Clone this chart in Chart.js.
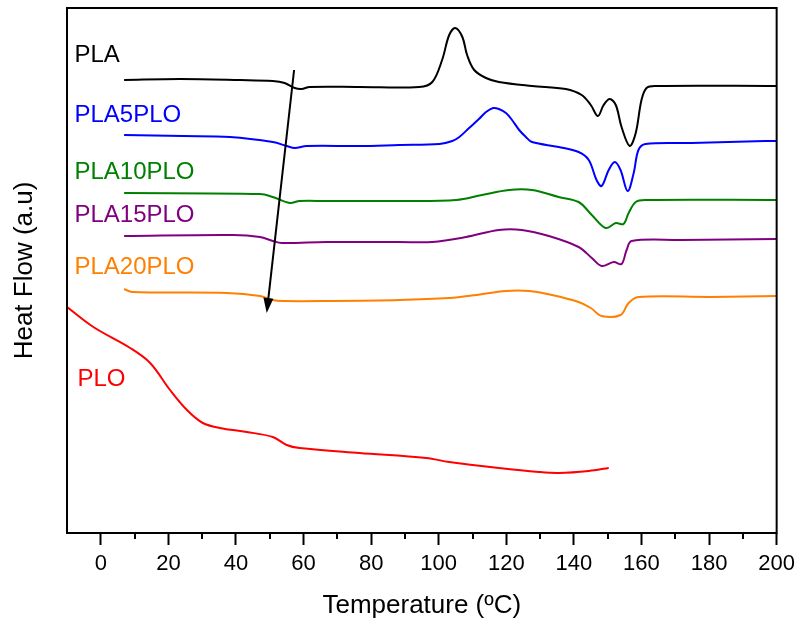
<!DOCTYPE html>
<html>
<head>
<meta charset="utf-8">
<script src="https://cdn.jsdelivr.net/npm/chart.js@4/dist/chart.umd.min.js"></script>
<style>
  html, body { margin: 0; padding: 0; background: #fff; }
  #wrap { width: 801px; height: 624px; }
</style>
</head>
<body>
<div id="wrap"><canvas id="dsc"></canvas></div>
<script>
// temperatures (°C) and heat flow (arbitrary units, offset curves)
const plaTemp = [6.9, 23.5, 41.2, 50.9, 54.4, 57.4, 59.4, 61.8, 76.5, 94.2, 98.1, 101.0, 103.1, 104.9, 107.0, 108.4, 110.5, 114.0, 117.8, 127.6, 137.6, 142.3, 145.0, 147.1, 148.8, 150.6, 152.4, 154.1, 156.5, 158.3, 160.0, 161.5, 164.1, 200];
const plaFlow = [453, 454, 453, 452, 450, 445, 444, 446, 446, 446, 451, 473, 498, 505, 496, 478, 463, 455, 451, 447, 444, 438, 428, 417, 428, 434, 428, 406, 387, 400, 433, 445, 447, 447];

const pla5Temp = [6.9, 24.3, 38.2, 50.9, 55.0, 57.4, 60.9, 76.5, 88.3, 100.2, 104.0, 106.1, 109.0, 111.9, 114.0, 116.1, 117.8, 119.9, 121.7, 123.8, 125.8, 127.6, 135.5, 141.4, 144.4, 146.7, 148.2, 150.3, 152.1, 153.8, 155.9, 157.7, 159.1, 161.2, 174.8, 196.6, 200];
const pla5Flow = [398, 397, 396, 391, 387, 385, 387, 387, 388, 389, 392, 396, 405, 414, 421, 425, 424, 420, 413, 403, 396, 391, 386, 381, 373, 353, 347, 363, 371, 363, 342, 360, 383, 389, 390, 392, 392];

const pla10Temp = [6.9, 47.1, 50.9, 55.9, 58.8, 66.8, 88.3, 105.2, 112.8, 120.8, 127.6, 135.5, 141.4, 145.3, 149.4, 152.4, 154.7, 156.2, 158.3, 161.2, 200];
const pla10Flow = [340, 339, 336, 330, 332, 332, 332, 333, 338, 343, 343, 336, 331, 318, 305, 310, 309, 320, 331, 333, 333];

const pla15Temp = [6.9, 39.1, 47.1, 50.9, 53.5, 66.8, 88.3, 98.1, 108.1, 117.8, 124.6, 132.6, 141.4, 145.3, 148.2, 151.8, 154.1, 155.6, 157.1, 171.8, 200];
const pla15Flow = [297, 298, 296, 292, 290, 291, 291, 291, 296, 303, 303, 297, 286, 275, 267, 271, 269, 283, 292, 293, 294];

const pla20Temp = [6.9, 9.3, 37.3, 47.1, 50.9, 53.8, 66.8, 88.3, 103.1, 111.1, 119.9, 126.7, 133.5, 141.4, 145.0, 148.2, 153.8, 156.2, 159.1, 180.7, 200];
const pla20Flow = [244, 241, 240, 237, 233, 232, 232, 233, 235, 238, 242, 242, 238, 231, 225, 217, 218, 230, 236, 236, 237];

const ploTemp = [-10, -2.2, 8.7, 14.6, 20.5, 25.5, 30.2, 35.2, 43.2, 50.9, 55.0, 58.8, 76.5, 96.3, 103.1, 117.8, 129.6, 135.5, 144.4, 150.3];
const ploFlow = [226, 206, 185, 170, 143, 123, 110, 105, 101, 96, 88, 85, 80, 75, 71, 65, 61, 60, 62, 65];

const seriesNames = ["PLA", "PLA5PLO", "PLA10PLO", "PLA15PLO", "PLA20PLO", "PLO"];
const seriesColors = ["#000000", "#0000ff", "#008000", "#800080", "#ff8000", "#ff0000"];
// where each curve name sits (temperature, heat flow)
const labelTemp = [-7.8, -7.8, -7.8, -7.8, -7.8, -6.9];
const labelFlow = [478, 418, 361, 318, 266, 154];

// arrow showing the Tg shift: from [temp, flow] to [temp, flow]
const arrowFrom = [57.2, 463];
const arrowTo = [49.1, 220];

const majorTicks = [0, 20, 40, 60, 80, 100, 120, 140, 160, 180, 200];
const minorTicks = [10, 30, 50, 70, 90, 110, 130, 150, 170, 190];

const temps = [plaTemp, pla5Temp, pla10Temp, pla15Temp, pla20Temp, ploTemp];
const flows = [plaFlow, pla5Flow, pla10Flow, pla15Flow, pla20Flow, ploFlow];

const FONT = "Arial, 'Liberation Sans', sans-serif";

const datasets = seriesNames.map((name, i) => ({
  label: name,
  data: temps[i].map((t, k) => ({ x: t, y: flows[i][k] })),
  borderColor: seriesColors[i],
  borderWidth: 2,
  pointRadius: 0,
  tension: 0.35,
  fill: false
}));

const decorations = {
  id: "decorations",
  afterDraw(chart) {
    const { ctx, chartArea: a, scales } = chart;
    const xs = scales.x, ys = scales.y;
    ctx.save();

    // frame
    ctx.strokeStyle = "#000";
    ctx.lineWidth = 2;
    ctx.strokeRect(a.left, a.top, a.right - a.left, a.bottom - a.top);

    // minor ticks
    ctx.beginPath();
    minorTicks.forEach(v => {
      const px = Math.round(xs.getPixelForValue(v));
      ctx.moveTo(px, a.bottom);
      ctx.lineTo(px, a.bottom + 6);
    });
    ctx.stroke();

    // curve names
    ctx.font = "24px " + FONT;
    ctx.textBaseline = "middle";
    ctx.textAlign = "left";
    seriesNames.forEach((name, i) => {
      ctx.fillStyle = seriesColors[i];
      ctx.fillText(name, xs.getPixelForValue(labelTemp[i]), ys.getPixelForValue(labelFlow[i]));
    });

    // arrow
    const x1 = xs.getPixelForValue(arrowFrom[0]), y1 = ys.getPixelForValue(arrowFrom[1]);
    const x2 = xs.getPixelForValue(arrowTo[0]), y2 = ys.getPixelForValue(arrowTo[1]);
    const ang = Math.atan2(y2 - y1, x2 - x1);
    const headLen = 15, headW = 5;
    const bx = x2 - headLen * Math.cos(ang), by = y2 - headLen * Math.sin(ang);
    ctx.strokeStyle = "#000";
    ctx.fillStyle = "#000";
    ctx.lineWidth = 2;
    ctx.beginPath();
    ctx.moveTo(x1, y1);
    ctx.lineTo(bx, by);
    ctx.stroke();
    ctx.beginPath();
    ctx.moveTo(x2, y2);
    ctx.lineTo(bx + headW * Math.sin(ang), by - headW * Math.cos(ang));
    ctx.lineTo(bx - headW * Math.sin(ang), by + headW * Math.cos(ang));
    ctx.closePath();
    ctx.fill();

    ctx.restore();
  }
};

const ctx = document.getElementById("dsc").getContext("2d");
new Chart(ctx, {
  type: "line",
  data: { datasets },
  plugins: [decorations],
  options: {
    responsive: true,
    maintainAspectRatio: false,
    animation: false,
    layout: { padding: { top: 8, right: 21, left: 0, bottom: 0 } },
    plugins: {
      legend: { display: false },
      tooltip: { enabled: false }
    },
    scales: {
      x: {
        type: "linear",
        min: -10,
        max: 200,
        afterBuildTicks: s => { s.ticks = majorTicks.map(v => ({ value: v })); },
        afterFit: s => { s.height = 91; },
        border: { display: false },
        grid: {
          drawOnChartArea: false,
          tickLength: 12,
          tickWidth: 2,
          tickColor: "#000"
        },
        ticks: {
          color: "#000",
          padding: 6,
          maxRotation: 0,
          font: { family: FONT, size: 22 }
        },
        title: {
          display: true,
          text: "Temperature (ºC)",
          color: "#000",
          padding: { top: 0, bottom: 3 },
          font: { family: FONT, size: 26 }
        }
      },
      y: {
        min: 0,
        max: 525,
        afterFit: s => { s.width = 67; },
        border: { display: false },
        grid: { display: false },
        ticks: { display: false },
        title: {
          display: true,
          text: "Heat Flow (a.u)",
          color: "#000",
          padding: { top: 9, bottom: 0 },
          font: { family: FONT, size: 26 }
        }
      }
    }
  }
});
</script>
</body>
</html>
